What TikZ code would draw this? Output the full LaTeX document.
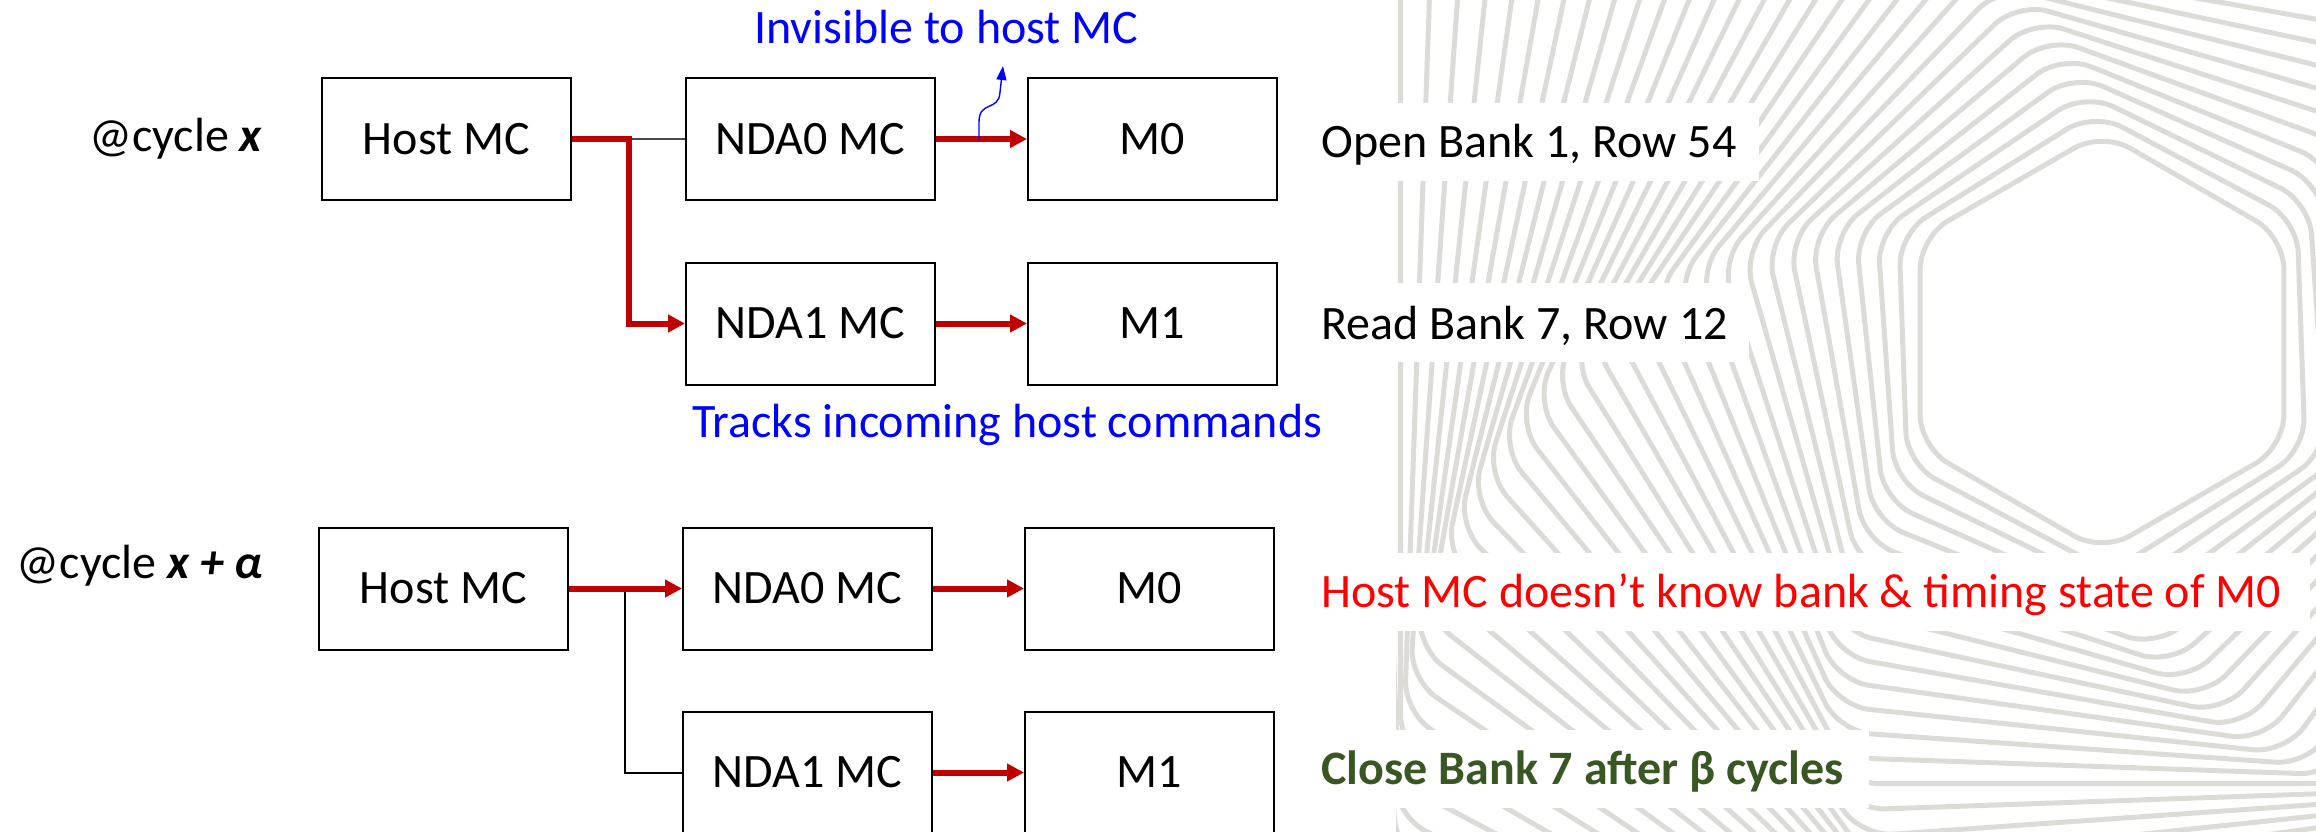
\documentclass[tikz,border=0pt]{standalone}
\usepackage{fontspec}
\setmainfont{Carlito}
\usetikzlibrary{arrows.meta}
\definecolor{arrowred}{HTML}{C00000}
\definecolor{txtred}{HTML}{FF0000}
\definecolor{txtblue}{HTML}{0000FF}
\definecolor{txtgreen}{HTML}{385723}
\definecolor{swirlgray}{HTML}{DCDBD7}
\begin{document}
\begin{tikzpicture}[x=0.5pt,y=-0.5pt,
  font=\fontsize{24pt}{28pt}\selectfont,
  box/.style={draw=black, line width=1pt, fill=white, minimum width=124.5pt, minimum height=61pt, inner sep=0pt},
  redarrow/.style={draw=arrowred, line width=3pt, -{Triangle[length=8.5pt,width=8.5pt]}},
  thinline/.style={draw=black!70, line width=0.8pt},
  blackline/.style={draw=black, line width=1pt},
  bluearrow/.style={draw=txtblue, line width=0.7pt, -{Triangle[length=7pt,width=5pt]}},
  swirlline/.style={draw=swirlgray, line width=2.5pt, rounded corners=16pt},
  lefttext/.style={anchor=base west, inner sep=0pt}
]
\useasboundingbox (0,0) rectangle (2316,831);

% background swirl
\begin{scope}
  \clip (1396,0) rectangle (2316,831);
  \foreach \k in {0,...,40}{
    \pgfmathsetmacro\R{210+20*\k}
    \pgfmathsetmacro\r{90+2.0*\k}
    \draw[swirlline, shift={(2102,342)}]
      (-\r:\R) -- (-\r-60:\R) -- (-\r-120:\R) -- (-\r-180:\R) -- (-\r-240:\R) -- (-\r-300:\R) -- cycle;
  }
\end{scope}

% white backgrounds of the side notes
\fill[white] (1296,103) rectangle (1759,181);
\fill[white] (1296,283) rectangle (1749,362);
\fill[white] (1296,553) rectangle (2310,631);
\fill[white] (1296,730) rectangle (1869,808);

% ---------- top: @cycle x ----------
\node[anchor=base] (lab0) at (176,151) {@cycle \textbf{\textit{x}}};
\node[box] (host0) at (446.5,139) {Host MC};
\node[box] (nda0) at (810.5,139) {NDA0 MC};
\node[box] (m0) at (1152.5,139) {M0};
\node[box] (nda1) at (810.5,323.5) {NDA1 MC};
\node[box] (m1) at (1152.5,323.5) {M1};

\coordinate (j0) at (629,139);
\draw[thinline] (j0) -- (nda0.west);
\draw[redarrow] (host0.east) -- (j0) |- (nda1.west);
\draw[redarrow] (nda0.east) -- (m0.west);
\draw[redarrow] (nda1.east) -- (m1.west);

\coordinate (b0) at (979,139);
\coordinate (b1) at (1003,66);
\draw[bluearrow] (b0) -- (979,122) .. controls (979,100) and (999,112) .. (1000,92) -- (b1);

\node[lefttext, text=txtblue] (inv) at (754,43) {Invisible to host MC};
\node[lefttext, text=txtblue] (trk) at (692,437) {Tracks incoming host commands};
\node[lefttext] (t0) at (1321,157) {Open Bank 1, Row 54};
\node[lefttext] (t1) at (1321,339) {Read Bank 7, Row 12};

% ---------- bottom: @cycle x + alpha ----------
\node[anchor=base] (lab1) at (140,578) {@cycle \textbf{\textit{x + α}}};
\node[box] (host1) at (443.5,588.5) {Host MC};
\node[box] (nda0b) at (807.5,588.5) {NDA0 MC};
\node[box] (m0b) at (1149.5,588.5) {M0};
\node[box] (nda1b) at (807.5,772.5) {NDA1 MC};
\node[box] (m1b) at (1149.5,772.5) {M1};

\coordinate (j1) at (625,588.5);
\draw[blackline] (j1) |- (nda1b.west);
\draw[redarrow] (host1.east) -- (nda0b.west);
\draw[redarrow] (nda0b.east) -- (m0b.west);
\draw[redarrow] (nda1b.east) -- (m1b.west);

\node[lefttext, text=txtred] (t2) at (1321,607) {Host MC doesn’t know bank \& timing state of M0};
\node[lefttext, text=txtgreen, font=\fontsize{24pt}{28pt}\selectfont\bfseries] (t3) at (1321,784) {Close Bank 7 after β cycles};
\end{tikzpicture}
\end{document}
